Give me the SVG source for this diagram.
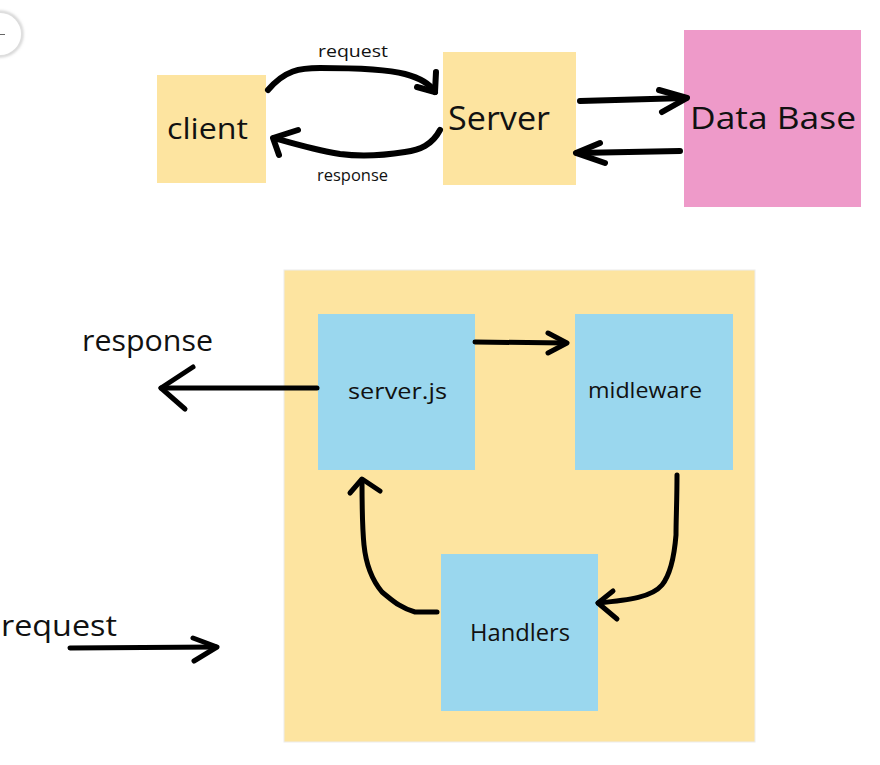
<svg xmlns="http://www.w3.org/2000/svg" width="880" height="765" viewBox="0 0 880 765">
<defs>
<style>
.y{fill:#FDE4A0}
.b{fill:#9AD7EE}
.p{fill:#EE9AC9}
.t{font-family:"Open Sans","Noto Sans","Liberation Sans",sans-serif;fill:#111}
.a{fill:none;stroke:#000;stroke-linecap:round;stroke-linejoin:round}
.a6{stroke-width:6}
.a5{stroke-width:5}
</style>
<filter id="sh" x="-50%" y="-50%" width="200%" height="200%"><feGaussianBlur stdDeviation="1.5"/></filter>
</defs>
<rect width="880" height="765" fill="#fff"/>
<g id="btn">
<circle cx="0" cy="34" r="22" fill="none" stroke="#bbb" stroke-width="2" filter="url(#sh)"/>
<circle cx="0" cy="34" r="21" fill="#fff"/>
<line x1="0" y1="34.5" x2="5" y2="34.5" stroke="#666" stroke-width="1"/>
</g>
<g id="client"><rect class="y" x="157" y="75" width="109" height="108"/><text class="t" x="167" y="139" font-size="30" textLength="81" lengthAdjust="spacingAndGlyphs">client</text></g>
<g id="server"><rect class="y" x="443" y="52" width="133" height="133"/><text class="t" x="448" y="130" font-size="32" textLength="102" lengthAdjust="spacingAndGlyphs">Server</text></g>
<g id="database"><rect class="p" x="684" y="30" width="177" height="177"/><text class="t" x="690" y="129" font-size="31" textLength="166" lengthAdjust="spacingAndGlyphs">Data Base</text></g>
<g id="container"><rect class="y" x="284" y="270" width="471" height="472" stroke="#ececec" stroke-width="1"/></g>
<g id="serverjs"><rect class="b" x="318" y="314" width="157" height="156"/><text class="t" x="348" y="399" font-size="21" textLength="99" lengthAdjust="spacingAndGlyphs">server.js</text></g>
<g id="midleware"><rect class="b" x="575" y="314" width="158" height="156"/><text class="t" x="588" y="398" font-size="21" textLength="114" lengthAdjust="spacingAndGlyphs">midleware</text></g>
<g id="handlers"><rect class="b" x="441" y="554" width="157" height="157"/><text class="t" x="470" y="641" font-size="23" textLength="100" lengthAdjust="spacingAndGlyphs">Handlers</text></g>
<g id="labels">
<text class="t" x="318" y="57" font-size="16" textLength="70" lengthAdjust="spacingAndGlyphs">request</text>
<text class="t" x="317" y="181" font-size="16" textLength="71" lengthAdjust="spacingAndGlyphs">response</text>
<text class="t" x="82" y="351" font-size="29" textLength="131" lengthAdjust="spacingAndGlyphs">response</text>
<text class="t" x="1" y="636" font-size="29" textLength="116" lengthAdjust="spacingAndGlyphs">request</text>
</g>
<g id="connectors">
<path class="a a6" d="M268,90 C285,70 300,68 320,68 C360,68 390,70 405,74 C420,78 430,84 435,92"/>
<path class="a a6" d="M436,72 L435,92 L417,87"/>
<path class="a a6" d="M440,130 C432,145 420,150 405,152 C380,156 355,156 340,154 C315,150 295,144 274,138"/>
<path class="a a6" d="M298,130 L273,138 L279,155"/>
<path class="a a6" d="M580,101 L686,98"/>
<path class="a a6" d="M659,90 L687,98 L662,112"/>
<path class="a a6" d="M680,151 L577,153"/>
<path class="a a6" d="M600,143 L576,153 L605,163"/>
<path class="a a5" d="M475,342 L566,343"/>
<path class="a a5" d="M548,333 L567,343 L548,353"/>
<path class="a a5" d="M317,388 L161,388"/>
<path class="a a5" d="M193,367 L161,388 L185,409"/>
<path class="a a5" d="M677,475 C677,500 676,520 676,535 C674,560 670,575 662,585 C652,597 630,600 598,603"/>
<path class="a a5" d="M613,591 L598,603 L617,619"/>
<path class="a a5" d="M437,612 L415,612 C400,608 392,600 382,592 C372,580 366,565 364,545 C362,525 362,500 362,480"/>
<path class="a a5" d="M350,493 L362,479 L380,491"/>
<path class="a a5" d="M70,648 L216,647"/>
<path class="a a5" d="M193,638 L217,647 L194,661"/>
</g>
</svg>
